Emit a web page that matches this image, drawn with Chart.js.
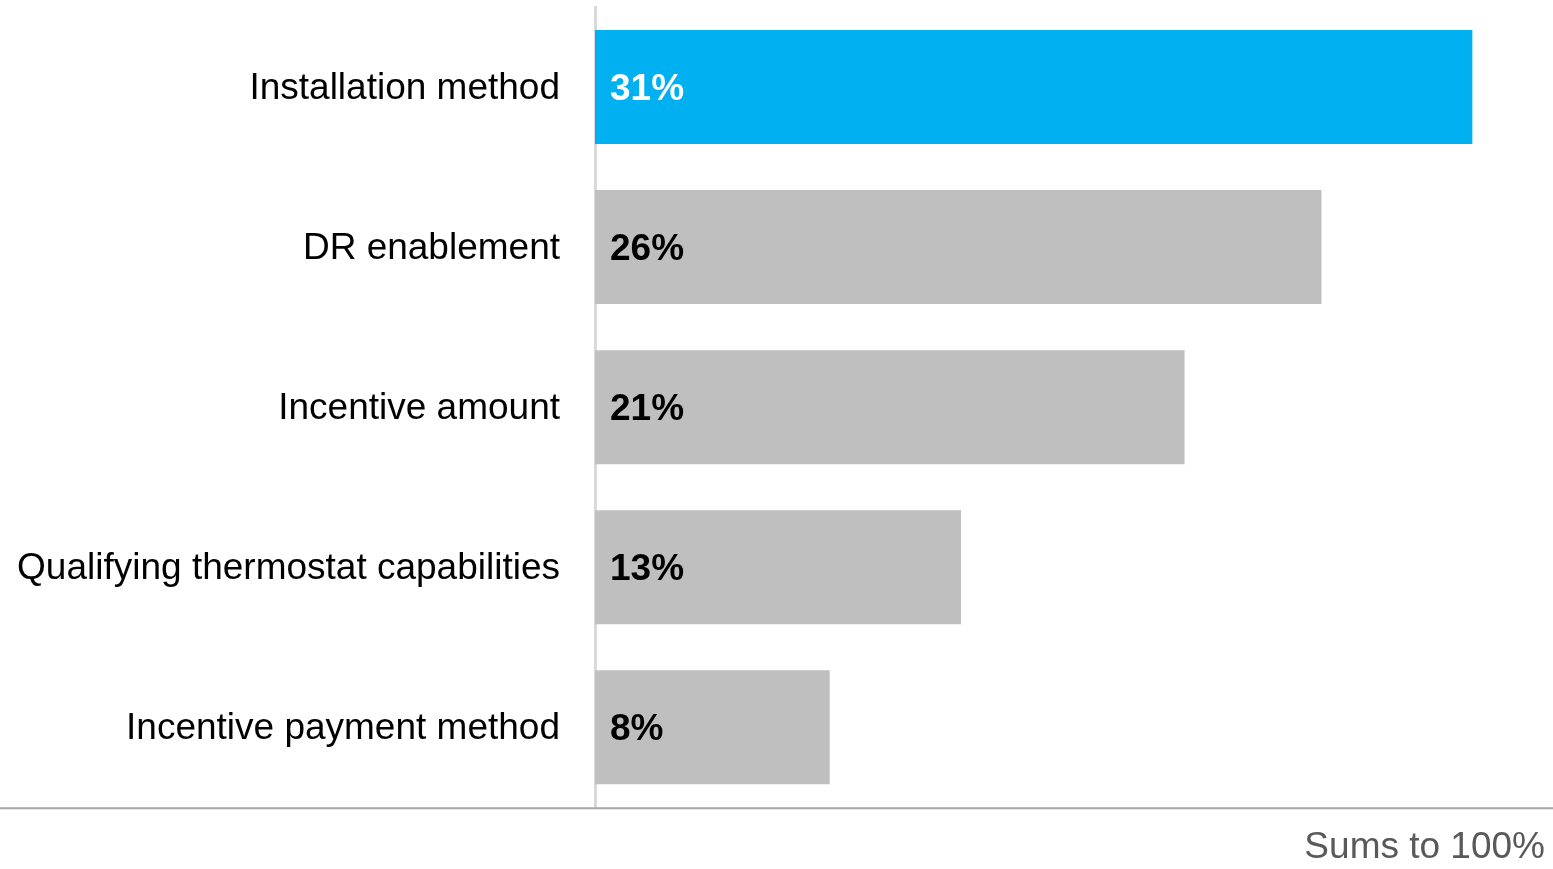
<!DOCTYPE html>
<html>
<head>
<meta charset="utf-8">
<script src="https://cdn.jsdelivr.net/npm/chart.js@4"></script>
<style>
  html, body { margin: 0; padding: 0; background: #fff; }
  #wrap { width: 1553px; height: 869px; }
</style>
</head>
<body>
<div id="wrap"><canvas id="chart" width="1553" height="869"></canvas></div>
<script>
// Data
const categories = [
  "Installation method",
  "DR enablement",
  "Incentive amount",
  "Qualifying thermostat capabilities",
  "Incentive payment method"
];
const shares = [31.4, 26.0, 21.1, 13.1, 8.4];
const barColors = ["#00B0F0", "#BFBFBF", "#BFBFBF", "#BFBFBF", "#BFBFBF"];
const labelColors = ["#FFFFFF", "#000000", "#000000", "#000000", "#000000"];
const footNote = "Sums to 100%";

const fontFamily = "'Liberation Sans', Arial, sans-serif";

// Prosent-tekst inne i stolpene
const valueLabels = {
  id: "valueLabels",
  afterDatasetsDraw(chart) {
    const ctx = chart.ctx;
    const meta = chart.getDatasetMeta(0);
    ctx.save();
    ctx.font = "bold 37px " + fontFamily;
    ctx.textBaseline = "middle";
    ctx.textAlign = "left";
    meta.data.forEach((bar, i) => {
      ctx.fillStyle = labelColors[i];
      ctx.fillText(Math.round(shares[i]) + "%", bar.base + 15, bar.y + 3);
    });
    ctx.restore();
  }
};

// Grå linje under hele grafen
const bottomRule = {
  id: "bottomRule",
  afterDraw(chart) {
    const ctx = chart.ctx;
    const y = chart.chartArea.bottom + 1;
    ctx.save();
    ctx.strokeStyle = "#A6A6A6";
    ctx.lineWidth = 2;
    ctx.beginPath();
    ctx.moveTo(0, y);
    ctx.lineTo(chart.width, y);
    ctx.stroke();
    ctx.restore();
  }
};

const ctx = document.getElementById("chart").getContext("2d");
new Chart(ctx, {
  type: "bar",
  data: {
    labels: categories,
    datasets: [
      {
        data: shares,
        backgroundColor: barColors,
        borderWidth: 0,
        categoryPercentage: 1,
        barPercentage: 0.7125
      }
    ]
  },
  plugins: [valueLabels, bottomRule],
  options: {
    indexAxis: "y",
    responsive: false,
    animation: false,
    layout: { padding: { top: 7, right: 8, left: 0, bottom: 0 } },
    plugins: {
      legend: { display: false },
      tooltip: { enabled: false },
      title: {
        display: true,
        text: footNote,
        position: "bottom",
        align: "end",
        color: "#595959",
        font: { family: fontFamily, size: 37, weight: "normal", lineHeight: 1.1 },
        padding: { top: 20, bottom: 1 }
      }
    },
    scales: {
      x: {
        display: false,
        min: 0,
        max: 34
      },
      y: {
        afterFit(axis) {
          axis.width = 595;
          axis.paddingTop = 0;
          axis.paddingBottom = 0;
        },
        grid: { display: false, drawTicks: false },
        border: { display: true, color: "#D9D9D9", width: 3 },
        ticks: {
          color: "#000000",
          padding: 35,
          labelOffset: 2,
          font: { family: fontFamily, size: 37 }
        }
      }
    }
  }
});
</script>
</body>
</html>
